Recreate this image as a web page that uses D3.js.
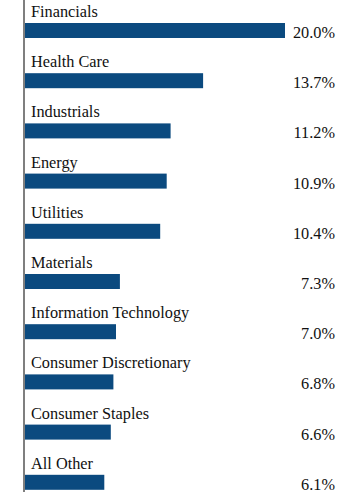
<!DOCTYPE html>
<html lang="en">
	<head>
		<meta charset="utf-8">
		<title>Sector bars</title>
		<script src="https://d3js.org/d3.v7.min.js"></script>
		<style>
			body { margin: 0; background: #fff; }
		</style>
	</head>
	<body>
		<script type="text/javascript">

			// data
			var sectors = ["Financials", "Health Care", "Industrials", "Energy", "Utilities",
				"Materials", "Information Technology", "Consumer Discretionary", "Consumer Staples", "All Other"];
			var values = [20.0, 13.7, 11.2, 10.9, 10.4, 7.3, 7.0, 6.8, 6.6, 6.1];

			var w = 360;
			var h = 497;
			var x0 = 25;

			// scales
			var xScale = d3.scaleLinear().domain([0, 20]).range([x0, 285]);
			var yScale = d3.scaleBand().domain(sectors).range([0, 502]).paddingInner(0);

			var svg = d3.select("body").append("svg").attr("width", w).attr("height", h);

			var rows = svg.selectAll("g.row").data(sectors).enter().append("g")
				.attr("class", "row")
				.attr("transform", function(d) { return "translate(0," + yScale(d) + ")"; });

			// bars
			rows.append("rect")
				.attr("x", x0)
				.attr("y", 23)
				.attr("height", 15)
				.attr("width", function(d, i) { return xScale(values[i]) - x0; })
				.attr("fill", "#0b4a7f");

			// category labels
			rows.append("text")
				.attr("x", 31)
				.attr("y", 17)
				.attr("font-family", "Liberation Serif")
				.attr("font-size", "16.3px")
				.attr("fill", "#111")
				.text(function(d) { return d; });

			// value labels
			rows.append("text")
				.attr("x", 335)
				.attr("y", 38)
				.attr("text-anchor", "end")
				.attr("font-family", "Liberation Serif")
				.attr("font-size", "16.3px")
				.attr("fill", "#111")
				.text(function(d, i) { return values[i].toFixed(1) + "%"; });

			// axis line
			svg.append("line")
				.attr("x1", 24).attr("x2", 24)
				.attr("y1", 0).attr("y2", 492)
				.attr("stroke", "#555")
				.attr("stroke-width", 1.5);

		</script>
	</body>
</html>
